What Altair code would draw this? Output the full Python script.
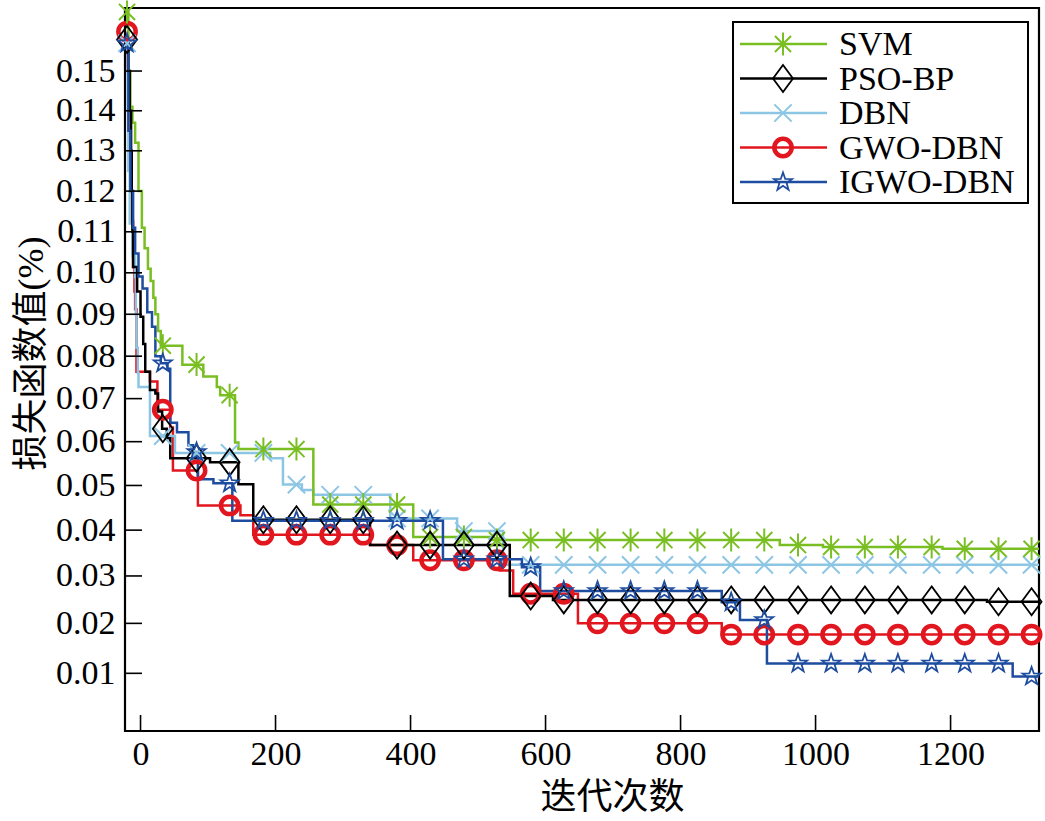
import altair as alt
import pandas as pd

SERIES = ["SVM", "PSO-BP", "DBN", "GWO-DBN", "IGWO-DBN"]
COLORS = {"SVM": "#79BE22", "PSO-BP": "#000000", "DBN": "#8CC6E4",
          "GWO-DBN": "#E1161E", "IGWO-DBN": "#1E4C9F"}

# step curves (x where the curve steps, y held after it)
svm_x = [-20, -18, -15, -12, -8, -3, 2, 6, 11, 15, 19, 22, 26, 30, 62, 93, 113, 118, 140, 145, 256, 404, 518, 947, 1011, 1188]
svm_y = [0.165, 0.150, 0.141, 0.137, 0.132, 0.120, 0.111, 0.106, 0.101, 0.098, 0.094, 0.090, 0.086, 0.0825, 0.0780, 0.0752,
         0.0727, 0.0708, 0.0598, 0.0583, 0.0457, 0.0385, 0.0378, 0.0367, 0.0363, 0.0359]

pso_x = [-20, -18, -16, -14, -13, -12, -11, -5, 0, 4, 7, 14, 22, 26, 32, 39, 44, 103, 145, 167, 340, 547, 611, 1254]
pso_y = [0.158, 0.150, 0.140, 0.130, 0.120, 0.110, 0.1014, 0.0955, 0.0894, 0.0829, 0.0763, 0.0720, 0.0712, 0.0670, 0.0630,
         0.0608, 0.0562, 0.0553, 0.0503, 0.0423, 0.0367, 0.0257, 0.0249, 0.0245]

dbn_x = [-20, -19, -18, -16, -12, -8, -7, -6, -4, -3, 14, 51, 192, 211, 239, 256, 370, 469, 537]
dbn_y = [0.157, 0.140, 0.125, 0.112, 0.104, 0.099, 0.090, 0.082, 0.076, 0.0727, 0.0613, 0.0574, 0.0562, 0.0502, 0.0490,
         0.0479, 0.0426, 0.0398, 0.0324]

gwo_x = [-20, -19, -17, -15, -13, -11, -9, -8, -6, 14, 25, 44, 48, 85, 148, 167, 340, 404, 532, 552, 648, 861]
gwo_y = [0.160, 0.150, 0.135, 0.125, 0.1125, 0.1014, 0.0955, 0.0912, 0.0763, 0.0740, 0.0674, 0.0633, 0.0534, 0.0455,
         0.0433, 0.0390, 0.0367, 0.0334, 0.0312, 0.0262, 0.0200, 0.0177]

igwo_x = [-20, -18, -15, -11, -8, -3, 3, 10, 17, 22, 30, 40, 44, 54, 71, 78, 85, 108, 136, 448, 565, 592, 861, 888, 928, 1292]
igwo_y = [0.157, 0.135, 0.120, 0.111, 0.1047, 0.0991, 0.0962, 0.0905, 0.0870, 0.0800, 0.0783, 0.0770, 0.0644, 0.0622,
          0.0592, 0.0576, 0.0514, 0.0505, 0.0421, 0.0336, 0.0319, 0.0268, 0.0244, 0.0207, 0.0119, 0.0094]

marker_x = [-20, 33, 83, 132, 182, 231, 281, 330, 380, 429, 479, 528, 578, 627, 677, 726, 776, 825, 875, 924,
            974, 1023, 1073, 1122, 1172, 1221, 1271, 1320]

x_ticks = [0, 200, 400, 600, 800, 1000, 1200]
y_ticks = [0.01, 0.02, 0.03, 0.04, 0.05, 0.06, 0.07, 0.08, 0.09, 0.10, 0.11, 0.12, 0.13, 0.14, 0.15]

X_DOMAIN = [-23, 1331]
Y_DOMAIN = [0, 0.166]
W, H = 914, 723

STEPS = {"SVM": (svm_x, svm_y), "PSO-BP": (pso_x, pso_y), "DBN": (dbn_x, dbn_y),
         "GWO-DBN": (gwo_x, gwo_y), "IGWO-DBN": (igwo_x, igwo_y)}

ASTERISK = "M0,-1L0,1M-0.7,-0.7L0.7,0.7M-0.7,0.7L0.7,-0.7"
DIAMOND = "M0,-1L0.74,0L0,1L-0.74,0Z"
XMARK = "M-1,-1L1,1M-1,1L1,-1"
STAR = ("M0,-1L0.235,-0.324L0.951,-0.309L0.38,0.124L0.588,0.809L0,0.4L-0.588,0.809"
        "L-0.38,0.124L-0.951,-0.309L-0.235,-0.324Z")
MARK = {"SVM": (ASTERISK, 529, 2.0), "PSO-BP": (DIAMOND, 729, 1.8), "DBN": (XMARK, 300, 2.0),
        "GWO-DBN": ("circle", 300, 4.5), "IGWO-DBN": (STAR, 361, 1.8)}

SERIF = "Liberation Serif"
CJK = "Liberation Serif, Noto Sans CJK SC"

xscale = alt.Scale(domain=X_DOMAIN, nice=False, zero=False)
yscale = alt.Scale(type="pow", exponent=0.9, domain=Y_DOMAIN, nice=False, zero=False)
xaxis = alt.Axis(values=x_ticks, format="d", ticks=False, tickSize=0, domain=False, grid=False,
                 labelFont=SERIF, labelFontSize=34, labelColor="black", labelPadding=6,
                 title="迭代次数", titleFont=CJK, titleFontSize=36, titleFontWeight="normal",
                 titleColor="black", titleX=487, titleY=66, titleBaseline="middle", titleAlign="center")
yaxis = alt.Axis(values=y_ticks, format=".2f", ticks=False, tickSize=0, domain=False, grid=False,
                 labelFont=SERIF, labelFontSize=34, labelColor="black", labelPadding=10,
                 title="损失函数值(%)", titleFont=CJK, titleFontSize=36, titleFontWeight="normal",
                 titleColor="black", titleX=-94, titleY=345, titleAngle=270,
                 titleBaseline="middle", titleAlign="center")


def X(field="x"):
    return alt.X(f"{field}:Q", scale=xscale, axis=xaxis)


def Y(field="y"):
    return alt.Y(f"{field}:Q", scale=yscale, axis=yaxis)


def step_value(xs, ys, mx):
    v = ys[0]
    for a, b in zip(xs, ys):
        if a <= mx:
            v = b
    return v


layers = []
draw_order = ["GWO-DBN", "DBN", "SVM", "PSO-BP", "IGWO-DBN"]
for s in draw_order:
    xs, ys = STEPS[s]
    df = pd.DataFrame({"x": xs + [X_DOMAIN[1]], "y": ys + [ys[-1]]})
    layers.append(alt.Chart(df).mark_line(interpolate="step-after", color=COLORS[s], strokeWidth=2.5,
                                          clip=True).encode(x=X(), y=Y()))
for s in draw_order:
    xs, ys = STEPS[s]
    dm = pd.DataFrame({"x": marker_x, "y": [step_value(xs, ys, m) for m in marker_x]})
    shape, size, sw = MARK[s]
    layers.append(alt.Chart(dm).mark_point(shape=shape, size=size, filled=False, color=COLORS[s],
                                           strokeWidth=sw, opacity=1).encode(x=X(), y=Y()))

# inward ticks
layers.append(alt.Chart(pd.DataFrame({"y": y_ticks})).mark_rule(color="black", strokeWidth=1.6).encode(
    y=Y(), x=alt.value(0), x2=alt.value(17)))
layers.append(alt.Chart(pd.DataFrame({"x": x_ticks})).mark_rule(color="black", strokeWidth=1.6).encode(
    x=X(), y=alt.value(H), y2=alt.value(H - 16)))

# legend
one = pd.DataFrame({"a": [0]})
layers.append(alt.Chart(one).mark_rect(fill="white", stroke="black", strokeWidth=2).encode(
    x=alt.value(608), x2=alt.value(903), y=alt.value(14), y2=alt.value(195)))
for i, s in enumerate(SERIES):
    ly = 36 + 34.5 * i
    shape, size, sw = MARK[s]
    layers.append(alt.Chart(one).mark_rule(color=COLORS[s], strokeWidth=2.5).encode(
        x=alt.value(615), x2=alt.value(702), y=alt.value(ly)))
    layers.append(alt.Chart(one).mark_point(shape=shape, size=size, filled=False, color=COLORS[s],
                                            strokeWidth=sw, opacity=1).encode(
        x=alt.value(658), y=alt.value(ly)))
    layers.append(alt.Chart(one).mark_text(text=s, font=SERIF, fontSize=34, align="left", baseline="middle",
                                           color="black").encode(x=alt.value(714), y=alt.value(ly + 1)))

chart = alt.layer(*layers).properties(
    width=W, height=H,
    padding={"left": 125, "top": 8, "right": 6, "bottom": 90},
    autosize=alt.AutoSizeParams(type="none"),
    background="white",
).configure_view(stroke="black", strokeWidth=2.2)

chart.save("out.html", embed_options={"renderer": "svg", "actions": False})
